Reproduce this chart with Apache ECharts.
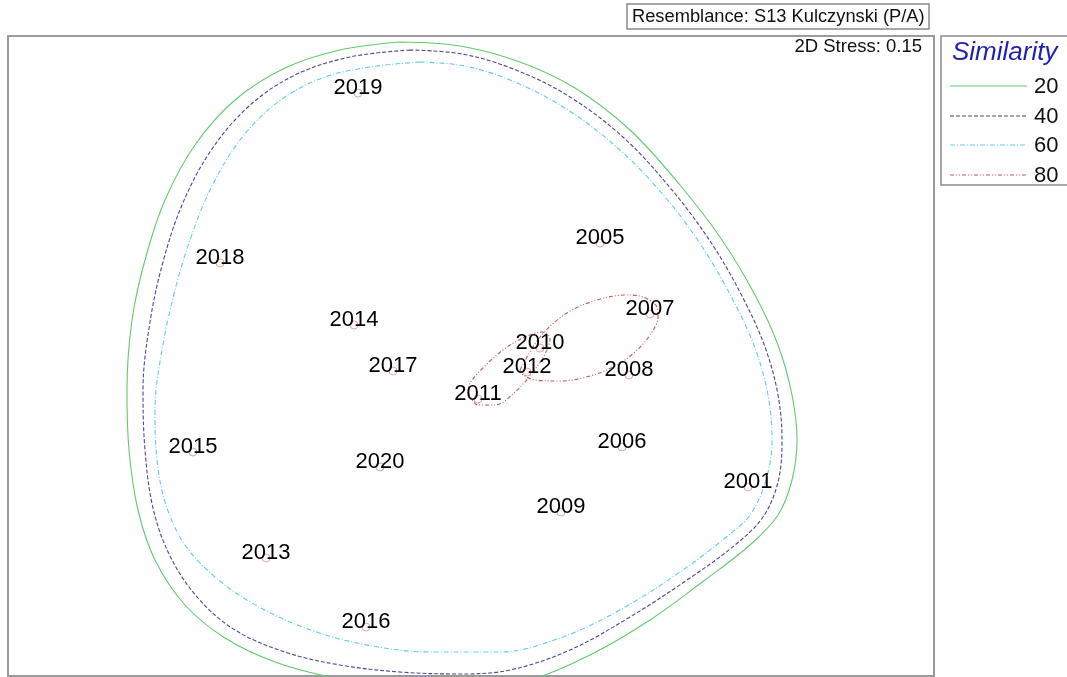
<!DOCTYPE html>
<html>
<head>
<meta charset="utf-8">
<script src="https://cdn.jsdelivr.net/npm/echarts@6/dist/echarts.min.js"></script>
<style>
  html, body { margin: 0; padding: 0; background: #ffffff; }
  #chart { width: 1067px; height: 677px; }
</style>
</head>
<body>
<div id="chart"></div>
<script>
// nMDS ordination of yearly samples (Kulczynski, presence/absence)
const years = ['2019', '2018', '2005', '2014', '2007', '2010', '2017', '2012', '2008',
               '2011', '2015', '2006', '2020', '2001', '2009', '2013', '2016'];
const mds1 = [-1.13, -2.51, 1.29, -1.17, 1.79, 0.69, -0.78, 0.56, 1.58,
              0.07, -2.78, 1.51, -0.91, 2.77, 0.90, -2.05, -1.05];
const mds2 = [2.64, 0.94, 1.14, 0.32, 0.43, 0.09, -0.14, -0.15, -0.18,
              -0.42, -0.95, -0.90, -1.10, -1.30, -1.55, -2.01, -2.70];

// Cluster similarity contours (MDS1, MDS2)
const contour20 = [[-0.71, 3.15], [-1.31, 3.07], [-1.86, 2.89], [-2.36, 2.57], [-2.76, 2.12],
  [-3.06, 1.57], [-3.26, 0.97], [-3.39, 0.37], [-3.44, -0.33], [-3.42, -0.93], [-3.33, -1.53],
  [-3.16, -2.03], [-2.86, -2.48], [-2.46, -2.81], [-1.96, -3.05], [-1.41, -3.20], [-0.71, -3.31],
  [-0.01, -3.33], [0.59, -3.23], [1.19, -2.98], [1.79, -2.63], [2.34, -2.23], [2.79, -1.88],
  [3.07, -1.58], [3.21, -1.23], [3.26, -0.83], [3.21, -0.38], [3.07, 0.12], [2.84, 0.62],
  [2.51, 1.17], [2.09, 1.72], [1.59, 2.27], [1.04, 2.69], [0.49, 2.95], [-0.11, 3.11]];
const contour40 = [[-0.61, 3.07], [-1.21, 3.00], [-1.76, 2.82], [-2.23, 2.50], [-2.61, 2.05],
  [-2.89, 1.52], [-3.08, 0.95], [-3.21, 0.35], [-3.28, -0.33], [-3.26, -0.93], [-3.18, -1.51],
  [-3.01, -1.99], [-2.73, -2.41], [-2.36, -2.73], [-1.86, -2.95], [-1.31, -3.08], [-0.71, -3.15],
  [-0.11, -3.17], [0.39, -3.13], [0.99, -2.93], [1.59, -2.60], [2.19, -2.21], [2.64, -1.88],
  [2.92, -1.60], [3.07, -1.25], [3.11, -0.83], [3.07, -0.38], [2.94, 0.10], [2.72, 0.59],
  [2.41, 1.13], [2.01, 1.67], [1.53, 2.19], [0.99, 2.60], [0.45, 2.87], [-0.09, 3.03]];
const contour60 = [[-0.51, 2.95], [-1.01, 2.90], [-1.49, 2.79], [-1.93, 2.55], [-2.31, 2.17],
  [-2.61, 1.67], [-2.81, 1.17], [-2.96, 0.67], [-3.09, 0.07], [-3.16, -0.53], [-3.14, -1.03],
  [-3.05, -1.48], [-2.86, -1.88], [-2.56, -2.20], [-2.19, -2.46], [-1.71, -2.69], [-1.14, -2.86],
  [-0.41, -2.95], [0.29, -2.95], [0.89, -2.81], [1.49, -2.53], [2.09, -2.15], [2.54, -1.81],
  [2.79, -1.58], [2.95, -1.23], [3.01, -0.83], [2.97, -0.38], [2.84, 0.09], [2.62, 0.57],
  [2.32, 1.09], [1.94, 1.60], [1.49, 2.07], [0.97, 2.47], [0.44, 2.75], [-0.06, 2.91]];
const contour80a = [[0.49, -0.13], [0.69, 0.20], [0.96, 0.44], [1.26, 0.57], [1.56, 0.62],
  [1.72, 0.60], [1.86, 0.50], [1.87, 0.40], [1.79, 0.22], [1.64, 0.05], [1.44, -0.09],
  [1.19, -0.19], [0.89, -0.24], [0.64, -0.23], [0.51, -0.17]];
const contour80b = [[-0.03, -0.35], [0.07, -0.48], [0.24, -0.48], [0.44, -0.35], [0.62, -0.15],
  [0.75, 0.05], [0.79, 0.18], [0.71, 0.25], [0.54, 0.20], [0.32, 0.07], [0.12, -0.11],
  [-0.01, -0.26]];

const simLevels = ['20', '40', '60', '80'];
const simColors = ['#62c96c', '#4f4597', '#62cde0', '#c45a5a'];
const simDash = ['solid', [4, 2], [5, 2, 1, 2], [4, 2, 1, 2, 1, 2]];

const resemblanceText = 'Resemblance: S13 Kulczynski (P/A)';
const stressText = '2D Stress: 0.15';
const legendTitle = 'Similarity';

const FONT = '"Liberation Sans", Arial, sans-serif';

function closeLoop(pts) { return pts.concat([pts[0]]); }

function contourSeries(pts, idx) {
  return {
    type: 'line',
    data: closeLoop(pts),
    smooth: 0.35,
    symbol: 'none',
    silent: true,
    clip: true,
    lineStyle: { color: simColors[idx], width: 1.1, type: simDash[idx] },
    z: 2
  };
}

const chart = echarts.init(document.getElementById('chart'), null, { renderer: 'canvas' });

// Legend rows
const legendGraphics = [];
const legendRowY = [86, 116, 145, 175];
simLevels.forEach((lv, i) => {
  legendGraphics.push({
    type: 'line',
    shape: { x1: 950, y1: legendRowY[i], x2: 1027, y2: legendRowY[i] },
    style: { stroke: simColors[i], lineWidth: 1.1, lineDash: simDash[i] === 'solid' ? null : simDash[i] }
  });
  legendGraphics.push({
    type: 'text',
    x: 1034, y: legendRowY[i] + 1,
    style: { text: lv, font: '22px ' + FONT, fill: '#111', textVerticalAlign: 'middle' }
  });
});

const option = {
  backgroundColor: '#ffffff',
  animation: false,
  grid: {
    left: 8, top: 36, width: 926, height: 640,
    show: true, borderColor: '#9a9a9a', borderWidth: 2, backgroundColor: 'transparent'
  },
  xAxis: {
    type: 'value', min: -4.63, max: 4.63,
    axisLine: { show: false }, axisTick: { show: false }, axisLabel: { show: false }, splitLine: { show: false }
  },
  yAxis: {
    type: 'value', min: -3.19, max: 3.21,
    axisLine: { show: false }, axisTick: { show: false }, axisLabel: { show: false }, splitLine: { show: false }
  },
  series: [
    contourSeries(contour20, 0),
    contourSeries(contour40, 1),
    contourSeries(contour60, 2),
    contourSeries(contour80a, 3),
    contourSeries(contour80b, 3),
    {
      type: 'scatter',
      data: years.map((y, i) => ({ name: y, value: [mds1[i], mds2[i]] })),
      symbol: 'circle',
      symbolSize: 8,
      silent: true,
      itemStyle: { color: 'rgba(0,0,0,0)', borderColor: 'rgba(205,110,110,0.75)', borderWidth: 1 },
      label: {
        show: true, position: 'inside', offset: [0, -5], formatter: '{b}',
        fontFamily: FONT, fontSize: 22, color: '#000000', opacity: 1
      },
      z: 3
    }
  ],
  graphic: [
    {
      type: 'rect',
      shape: { x: 627, y: 4, width: 302, height: 25 },
      style: { fill: '#fff', stroke: '#8a8a8a', lineWidth: 1.5 }
    },
    {
      type: 'text', x: 632, y: 17,
      style: { text: resemblanceText, font: '18.3px ' + FONT, fill: '#111', textVerticalAlign: 'middle' }
    },
    {
      type: 'text', x: 922, y: 47,
      style: { text: stressText, font: '18.5px ' + FONT, fill: '#111', textAlign: 'right', textVerticalAlign: 'middle' }
    },
    {
      type: 'rect',
      shape: { x: 941, y: 36, width: 140, height: 149 },
      style: { fill: '#fff', stroke: '#8a8a8a', lineWidth: 1.5 }
    },
    {
      type: 'text', x: 952, y: 53,
      style: { text: legendTitle, font: 'italic 26px ' + FONT, fill: '#1f1fb4', textVerticalAlign: 'middle' }
    }
  ].concat(legendGraphics)
};

chart.setOption(option);
</script>
</body>
</html>
